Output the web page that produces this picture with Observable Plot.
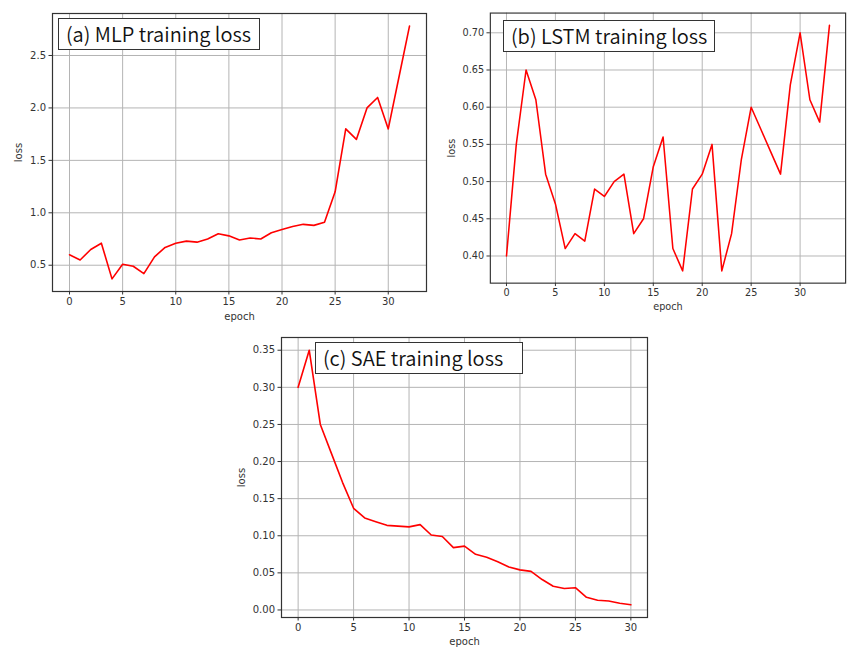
<!DOCTYPE html>
<html>
<head>
<meta charset="utf-8">
<script src="https://cdn.jsdelivr.net/npm/d3@7"></script>
<script src="https://cdn.jsdelivr.net/npm/@observablehq/plot@0.6"></script>
<style>
  html, body { margin: 0; padding: 0; background: #fff; overflow: hidden; }
  #wrap { position: relative; width: 849px; height: 648px; overflow: hidden; background: #fff; }
  .panel { position: absolute; }
  .panel svg { display: block; overflow: visible; }
  .tbox { position: absolute; border: 1.3px solid #333; background: #fff; box-sizing: border-box;
          font-family: "Noto Sans CJK KR", "Noto Sans", sans-serif; font-size: 20px; font-weight: 350; color: #111;
          line-height: 1; display: flex; align-items: center; padding-left: 7px; white-space: nowrap; }
</style>
</head>
<body>
<div id="wrap"></div>
<script>
// ---- data ----
const xTicks = [0, 5, 10, 15, 20, 25, 30];

const mlpTitle = "(a) MLP training loss";
const mlpLoss = [0.60, 0.55, 0.65, 0.71, 0.37, 0.51, 0.49, 0.42, 0.58, 0.67,
                 0.71, 0.73, 0.72, 0.75, 0.80, 0.78, 0.74, 0.76, 0.75, 0.81,
                 0.84, 0.87, 0.89, 0.88, 0.91, 1.20, 1.80, 1.70, 2.00, 2.10,
                 1.80, 2.29, 2.78];
const mlpYTicks = [0.5, 1.0, 1.5, 2.0, 2.5];

const lstmTitle = "(b) LSTM training loss";
const lstmLoss = [0.40, 0.55, 0.65, 0.61, 0.51, 0.47, 0.41, 0.43, 0.42, 0.49,
                  0.48, 0.50, 0.51, 0.43, 0.45, 0.52, 0.56, 0.41, 0.38, 0.49,
                  0.51, 0.55, 0.38, 0.43, 0.53, 0.60, 0.57, 0.54, 0.51, 0.63,
                  0.70, 0.61, 0.58, 0.71];
const lstmYTicks = [0.40, 0.45, 0.50, 0.55, 0.60, 0.65, 0.70];

const saeTitle = "(c) SAE training loss";
const saeLoss = [0.300, 0.350, 0.250, 0.211, 0.172, 0.137, 0.124, 0.119, 0.114, 0.113,
                 0.112, 0.115, 0.101, 0.099, 0.084, 0.086, 0.075, 0.071, 0.065, 0.058,
                 0.054, 0.052, 0.041, 0.032, 0.029, 0.030, 0.017, 0.013, 0.012, 0.009,
                 0.007];
const saeYTicks = [0.00, 0.05, 0.10, 0.15, 0.20, 0.25, 0.30, 0.35];

// ---- drawing ----
function padded(lo, hi) { const m = (hi - lo) * 0.05; return [lo - m, hi + m]; }

function panel(cfg) {
  const n = cfg.values.length;
  const xDom = padded(0, n - 1);
  const yDom = padded(d3.min(cfg.values), d3.max(cfg.values));
  const fmt = d3.format(cfg.yFormat);
  const plot = Plot.plot({
    width: cfg.width, height: cfg.height,
    marginLeft: cfg.ml, marginRight: cfg.mr, marginTop: cfg.mt, marginBottom: cfg.mb,
    x: { domain: xDom },
    y: { domain: yDom },
    style: { fontFamily: "DejaVu Sans, sans-serif", fontSize: "10px", color: "#333", background: "transparent" },
    marks: [
      Plot.gridX(xTicks, { stroke: "#b4b4b4", strokeOpacity: 1, strokeWidth: 1 }),
      Plot.gridY(cfg.yTicks, { stroke: "#b4b4b4", strokeOpacity: 1, strokeWidth: 1 }),
      Plot.axisX(xTicks, { tickSize: 3.5, tickPadding: 3, tickFormat: d => String(d),
        label: "epoch", labelAnchor: "center", labelArrow: "none", labelOffset: cfg.xlo,
        stroke: "#333", fill: "#333" }),
      Plot.axisY(cfg.yTicks, { tickSize: 3.5, tickPadding: 3, tickFormat: fmt,
        label: "loss", labelAnchor: "center", labelArrow: "none", labelOffset: cfg.ylo,
        stroke: "#333", fill: "#333" }),
      Plot.line(cfg.values, { x: (d, i) => i, y: d => d, stroke: "#ff0000", strokeWidth: 1.6 }),
      Plot.frame({ stroke: "#333", strokeWidth: 1.2 })
    ]
  });
  const div = document.createElement("div");
  div.className = "panel";
  div.style.left = cfg.left + "px";
  div.style.top = cfg.top + "px";
  div.appendChild(plot);
  document.getElementById("wrap").appendChild(div);

  const t = document.createElement("div");
  t.className = "tbox";
  t.textContent = cfg.title;
  t.style.left = cfg.box[0] + "px";
  t.style.top = cfg.box[1] + "px";
  t.style.width = cfg.box[2] + "px";
  t.style.height = cfg.box[3] + "px";
  document.getElementById("wrap").appendChild(t);
}

panel({ title: mlpTitle, values: mlpLoss, yTicks: mlpYTicks, yFormat: ".1f",
  left: 0, top: 0, width: 430, height: 325, ml: 52, mr: 4, mt: 13, mb: 34, xlo: 28, ylo: 38,
  box: [58, 18, 202, 32] });

panel({ title: lstmTitle, values: lstmLoss, yTicks: lstmYTicks, yFormat: ".2f",
  left: 425, top: 0, width: 438, height: 325, ml: 67, mr: 4, mt: 13, mb: 33, xlo: 28, ylo: 44,
  box: [503, 20, 212, 32] });

panel({ title: saeTitle, values: saeLoss, yTicks: saeYTicks, yFormat: ".2f",
  left: 220, top: 325, width: 430, height: 323, ml: 61, mr: 3, mt: 12, mb: 31, xlo: 27, ylo: 44,
  box: [315, 342, 208, 32] });
</script>
</body>
</html>
